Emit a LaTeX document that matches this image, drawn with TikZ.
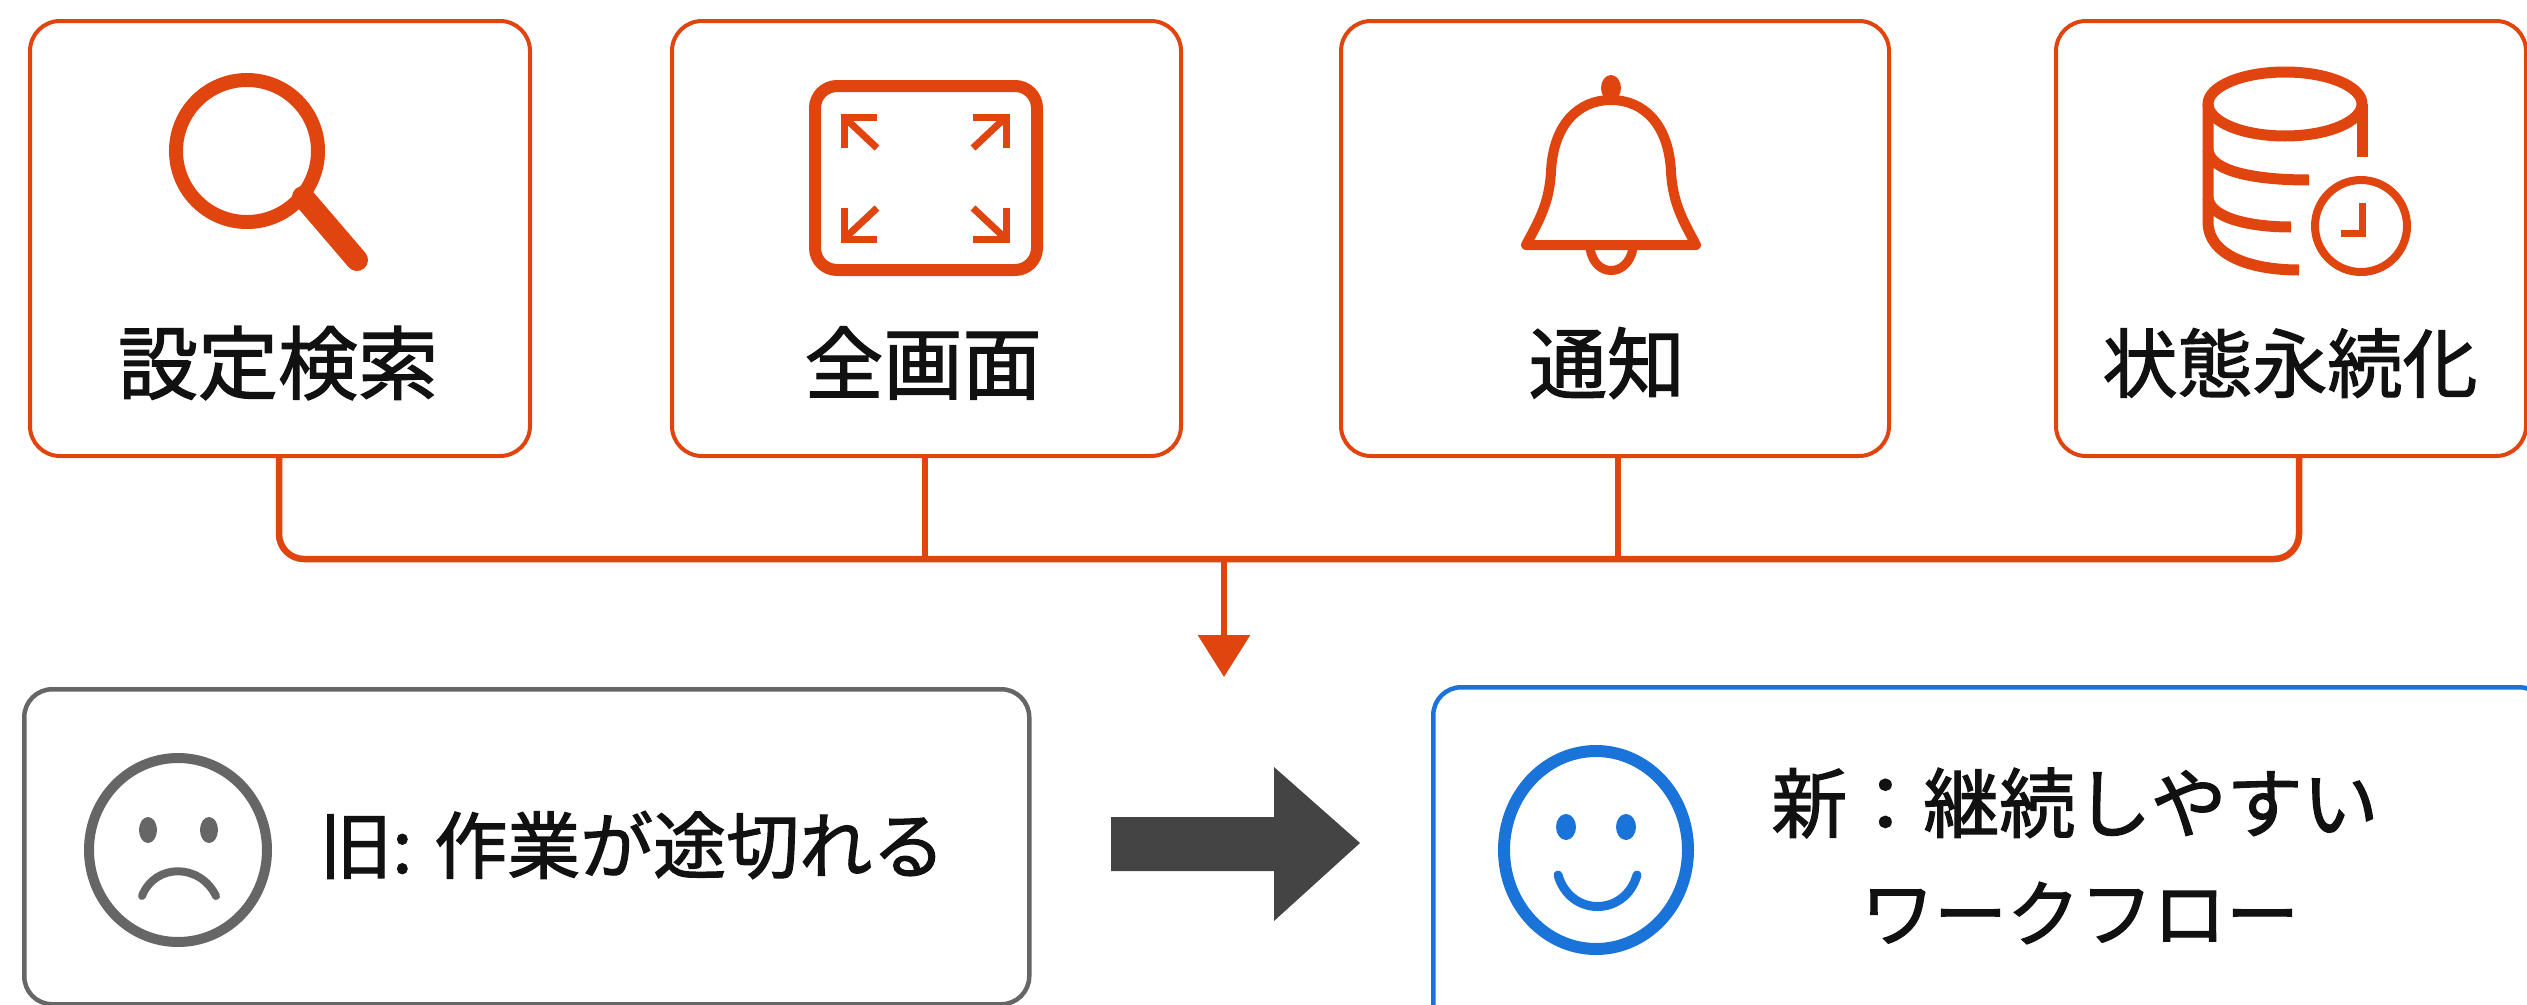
\documentclass[tikz,border=0pt]{standalone}
\usepackage{fontspec}
\setmainfont{Noto Sans CJK JP}[RawFeature={embolden=1.6}]
\usetikzlibrary{arrows.meta,calc}
\definecolor{acc}{HTML}{E0450F}
\definecolor{oldgray}{HTML}{666666}
\definecolor{newblue}{HTML}{1A73D8}
\definecolor{inkc}{HTML}{111111}
\definecolor{blockc}{HTML}{444444}
\tikzset{
  x=1pt,y=-1pt,
  cardbox/.style={draw=acc,line width=4pt,rounded corners=30pt,fill=white,inner sep=0pt},
  statebox/.style={line width=4.5pt,rounded corners=28pt,fill=white,inner sep=0pt},
  lab/.style={text=inkc,inner sep=0pt,align=center},
  wire/.style={draw=acc,line width=6.5pt},
  icon/.style={draw=acc,line width=11pt,line cap=round,line join=round},
  mini/.style={draw=acc,line width=7pt,line join=miter},
}
\newcommand{\boxat}[6]{\node[#1,minimum width=#4pt-#3pt,minimum height=#6pt-#5pt,anchor=north west] (#2) at (#3,#5) {};}
\begin{document}
\begin{tikzpicture}
\useasboundingbox (0,0) rectangle (2527,1004);
% cards
\boxat{cardbox}{b1}{28}{528}{19}{454}
\boxat{cardbox}{b2}{670}{1179}{19}{454}
\boxat{cardbox}{b3}{1339}{1887}{19}{454}
\boxat{cardbox}{b4}{2054}{2524}{19}{454}
% labels
\node[lab,font=\fontsize{80}{80}\selectfont] (t1) at (278,363) {設定検索};
\node[lab,font=\fontsize{79}{79}\selectfont] (t2) at (923,363) {全画面};
\node[lab,font=\fontsize{78}{78}\selectfont] (t3) at (1607,363) {通知};
\node[lab,font=\fontsize{75}{75}\selectfont] (t4) at (2290,363) {状態永続化};
% connectors
\coordinate (bus) at (1224,559);
\coordinate (j1) at (279,454);
\coordinate (j2) at (925,454);
\coordinate (j3) at (1618,454);
\coordinate (j4) at (2299,454);
\coordinate (tip) at (1224,677);
\draw[wire,rounded corners=25pt] (j1) -- (j1 |- bus) -- (j4 |- bus) -- (j4);
\draw[wire] (j2) -- (j2 |- bus);
\draw[wire] (j3) -- (j3 |- bus);
\draw[wire,-{Triangle[length=42pt,width=51pt,color=acc]}] (bus) -- (tip);
% magnifier
\draw[icon,line width=14pt] (247,151) circle [radius=71];
\draw[icon,line width=22pt] (303,197) -- (357,260);
% fullscreen
\draw[icon,line width=12pt,rounded corners=22pt] (815,86) rectangle (1037,270);
\draw[mini] (877,117) -- (844,117) -- (844,148);
\draw[mini] (844,117) -- (877,148);
\draw[mini] (973,117) -- (1006,117) -- (1006,148);
\draw[mini] (1006,117) -- (973,148);
\draw[mini] (844,208) -- (844,239) -- (877,239);
\draw[mini] (844,239) -- (877,208);
\draw[mini] (1006,208) -- (1006,239) -- (973,239);
\draw[mini] (1006,239) -- (973,208);
% bell
\draw[icon,line width=10pt] (1526,245) .. controls (1538,222) and (1549,205) .. (1551,172) .. controls (1553,125) and (1578,100) .. (1611,100) .. controls (1644,100) and (1669,125) .. (1671,172) .. controls (1673,205) and (1684,222) .. (1696,245) -- cycle;
\fill[acc] (1611,88) ellipse [x radius=10,y radius=13];
\draw[icon,line width=9pt,line cap=butt] (1590,248) .. controls (1594,278) and (1628,278) .. (1633,248);
% database
\draw[icon] (2285,104) ellipse [x radius=77,y radius=32];
\draw[icon,line cap=butt] (2362,104) -- (2362,157);
\draw[icon,line cap=butt] (2208,104) -- (2208,222) .. controls (2208,255) and (2250,270) .. (2299,270);
\draw[icon,line cap=butt] (2208,150) .. controls (2210,170) and (2250,180) .. (2309,180);
\draw[icon,line cap=butt] (2208,198) .. controls (2210,218) and (2250,227) .. (2291,227);
\draw[icon,line width=8pt] (2361,226) circle [radius=46];
\draw[mini,line cap=butt] (2362,203) -- (2362,233) -- (2341,233);
% state boxes
\boxat{statebox,draw=oldgray}{old}{22}{1027}{687}{1002}
\boxat{statebox,draw=newblue}{new}{1431}{2545}{685}{1040}
% sad face
\draw[oldgray,line width=10pt] (178,850) ellipse [x radius=89,y radius=92];
\fill[oldgray] (148,830) ellipse [x radius=9,y radius=13];
\fill[oldgray] (209,830) ellipse [x radius=9,y radius=13];
\draw[oldgray,line width=8pt,line cap=round] (142,896) .. controls (155,863) and (200,863) .. (216,896);
\node[lab,font=\fontsize{73}{73}\selectfont,anchor=west] (oldt) at (319,845) {旧: 作業が途切れる};
% block arrow
\fill[blockc] (1111,817) -- (1274,817) -- (1274,767) -- (1360,843) -- (1274,921) -- (1274,871) -- (1111,871) -- cycle;
% happy face
\draw[newblue,line width=12pt] (1596,850) ellipse [x radius=92,y radius=99];
\fill[newblue] (1566,827) ellipse [x radius=10,y radius=13];
\fill[newblue] (1626,827) ellipse [x radius=10,y radius=13];
\draw[newblue,line width=9pt,line cap=round] (1558,875) .. controls (1570,917) and (1625,917) .. (1637,875);
\node[lab,font=\fontsize{76}{76}\selectfont] (newa) at (2075,803) {新：継続しやすい};
\node[lab,font=\fontsize{73}{73}\selectfont] (newb) at (2080,913) {ワークフロー};
\end{tikzpicture}
\end{document}
